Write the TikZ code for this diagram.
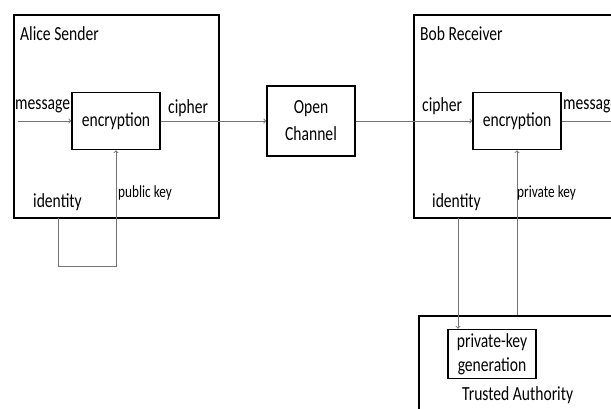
\documentclass[tikz,border=0pt]{standalone}
\usepackage{fontspec}
\setmainfont{Carlito}[FakeStretch=0.78]
\usetikzlibrary{
    arrows,
    calc,
    positioning
}

\begin{document}
\begin{tikzpicture}[x=1pt, y=-1pt,
    box/.style={draw=black, line width=1.6pt, inner sep=0pt},
    conn/.style={draw=black!55, line width=0.9pt},
    arr/.style={conn, ->},
    lbl/.style={inner sep=0pt, font=\fontsize{20}{24}\selectfont},
    small/.style={inner sep=0pt, font=\fontsize{17}{20}\selectfont}]
                        \useasboundingbox (0,0) rectangle (611,408);
                        \clip (0,0) rectangle (611,408);
                        % party boxes
                        \node[box, minimum width=205pt, minimum height=203pt] (alice) at (116.5, 116.5) {};
                        \node[box, minimum width=240pt, minimum height=203pt] (bob) at (534, 116.5) {};
                        \node[box, minimum width=230pt, minimum height=130pt] (ta) at (534, 381) {};
                        % inner blocks
                        \node[box, lbl, minimum width=88pt, minimum height=57pt] (aenc) at (116, 121) {encryption};
                        \node[box, lbl, minimum width=88pt, minimum height=70pt, align=center] (chan) at (311, 121) {Open\\[3pt]Channel};
                        \node[box, lbl, minimum width=88pt, minimum height=57pt] (benc) at (517, 121) {encryption};
                        \node[box, lbl, minimum width=88pt, minimum height=49pt, align=center] (pkg) at (492, 354) {private-key\\generation};
                        % texts
                        \node[lbl, anchor=west] (alicetxt) at (20, 34) {Alice Sender};
                        \node[lbl, anchor=west] (bobtxt) at (420, 34) {Bob Receiver};
                        \node[lbl, anchor=west] (tatxt) at (462, 395) {Trusted Authority};
                        \node[lbl, anchor=west] (amsg) at (15, 106) {message};
                        \node[lbl, anchor=west] (acph) at (168, 108) {cipher};
                        \node[lbl, anchor=west] (bcph) at (422, 106) {cipher};
                        \node[lbl, anchor=west] (bmsg) at (563, 106) {message};
                        \node[lbl, anchor=west] (aid) at (33, 202) {identity};
                        \node[lbl, anchor=west] (bid) at (432, 202) {identity};
                        \node[small, anchor=west] (apub) at (118, 193) {public key};
                        \node[small, anchor=west] (bpriv) at (517, 193) {private key};
                        % connectors
                        \coordinate (msgin) at (18, 121);
                        \coordinate (msgout) at (615, 121);
                        \coordinate (aidout) at (58, 218);
                        \coordinate (bidout) at (458, 218);
                        \draw[arr] (msgin) -- (aenc.west);
                        \draw[arr] (aenc.east) -- (chan.west);
                        \draw[arr] (chan.east) -- (benc.west);
                        \draw[conn] (benc.east) -- (msgout);
                        \draw[arr] (aidout) -- ++(0, 48) -| (aenc.south);
                        \draw[arr] (bidout) -- (bidout |- pkg.north);
                        \draw[arr] (benc.south |- ta.north) -- (benc.south);
                    \end{tikzpicture}
\end{document}
